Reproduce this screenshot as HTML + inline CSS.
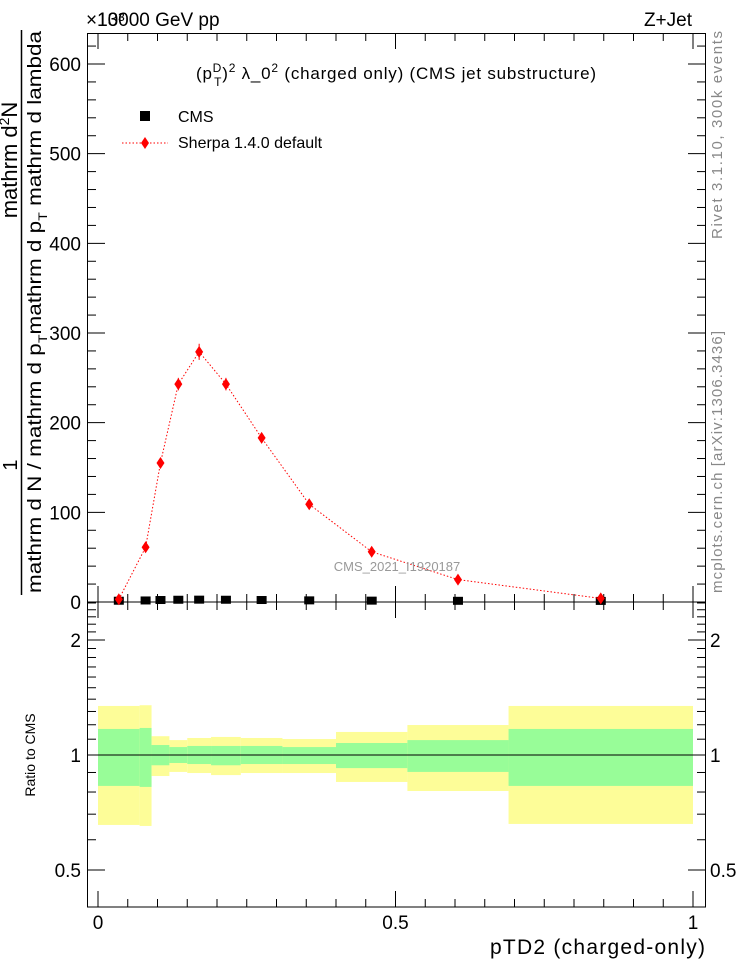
<!DOCTYPE html>
<html><head><meta charset="utf-8"><style>
body{margin:0;background:#fff}
svg{display:block;font-family:"Liberation Sans",sans-serif}
</style></head><body>
<svg id="c" width="746" height="972" viewBox="0 0 746 972">
<rect width="746" height="972" fill="#fff"/>
<g id="bands"></g>
<g id="axes"></g>
<g id="marks"></g>
<text x="86" y="26" font-size="19">×10³</text>
<text x="97" y="26" font-size="19">13000 GeV pp</text>
<text x="692" y="26" font-size="19" text-anchor="end">Z+Jet</text>
<text x="396" y="79" font-size="17" text-anchor="middle" textLength="400">(p<tspan font-size="12" dy="-7">D</tspan><tspan font-size="12" dx="-8" dy="14">T</tspan><tspan dy="-7">)</tspan><tspan font-size="12" dy="-7">2</tspan><tspan dy="7"> λ_0</tspan><tspan font-size="12" dy="-7">2</tspan><tspan dy="7"> (charged only) (CMS jet substructure)</tspan></text>
<rect x="140" y="111" width="10" height="10" fill="#000"/>
<text x="178" y="122" font-size="16">CMS</text>
<line x1="122" y1="143" x2="168" y2="143" stroke="red" stroke-dasharray="1.5,2"/>
<path d="M145,137 L149,143 L145,149 L141,143Z" fill="red"/>
<text x="178" y="148" font-size="16">Sherpa 1.4.0 default</text>
<text x="397" y="571" font-size="13" fill="#999" text-anchor="middle">CMS_2021_I1920187</text>
<text transform="translate(722,135) rotate(-90)" font-size="15" fill="#888" text-anchor="middle" textLength="208">Rivet 3.1.10,  300k events</text>
<text transform="translate(722,462) rotate(-90)" font-size="15" fill="#888" text-anchor="middle" textLength="262">mcplots.cern.ch [arXiv:1306.3436]</text>
<g>
<text transform="translate(17,160) rotate(-90)" font-size="22" text-anchor="middle">mathrm d<tspan font-size="14" dy="-8">2</tspan><tspan dy="8">N</tspan></text>
<text transform="translate(17,465) rotate(-90)" font-size="20" text-anchor="middle">1</text>
<line x1="21.5" y1="30" x2="21.5" y2="595" stroke="#000" stroke-width="1.5"/>
<text transform="translate(41,312) rotate(-90)" font-size="19" text-anchor="middle" textLength="562" lengthAdjust="spacingAndGlyphs">mathrm d N / mathrm d p<tspan font-size="12" dy="6">T</tspan><tspan dy="-6">mathrm d p</tspan><tspan font-size="12" dy="6">T</tspan><tspan dy="-6"> mathrm d lambda</tspan></text>
</g>
<text transform="translate(35,755) rotate(-90)" font-size="14" text-anchor="middle">Ratio to CMS</text>
<text x="705" y="954" font-size="21" text-anchor="end" textLength="215">pTD2 (charged-only)</text>
</svg>
<script>
const binEdges=[0,0.07,0.09,0.12,0.15,0.19,0.24,0.31,0.40,0.52,0.69,1.0];
const binCenters=[0.035,0.08,0.105,0.135,0.17,0.215,0.275,0.355,0.46,0.605,0.845];
const sherpaValues=[3,61,155,243,279,243,183,109,56,25,4];
const sherpaErrors=[3,5,6,7,9,7,5,3,2,1.5,1];
const cmsValues=[0.3,0.6,1.1,1.4,1.5,1.4,1.1,0.7,0.4,0.2,0.1];
const yellowUp=[1.344,1.35,1.12,1.094,1.108,1.115,1.108,1.101,1.149,1.198,1.344];
const yellowDown=[0.656,0.652,0.881,0.903,0.897,0.886,0.897,0.897,0.85,0.805,0.66];
const greenUp=[1.17,1.177,1.062,1.049,1.056,1.056,1.056,1.049,1.075,1.094,1.17];
const greenDown=[0.83,0.825,0.94,0.953,0.947,0.94,0.947,0.947,0.924,0.903,0.83];
const yTicks=[0,100,200,300,400,500,600];
const rTicks=[0.5,1,2];
const xTicks=[0,0.5,1];
const xTickLabels=["0","0.5","1"];

const NS="http://www.w3.org/2000/svg";
const X=v=>98+595*v;
const Y=v=>602-v*(538/600);
const R=r=>755-115*Math.log2(r);
function mk(p,t,a){const e=document.createElementNS(NS,t);for(const k in a)e.setAttribute(k,a[k]);p.appendChild(e);return e;}
const bands=document.getElementById('bands'),axes=document.getElementById('axes'),marks=document.getElementById('marks');
for(let i=0;i<binCenters.length;i++){
  const x0=X(binEdges[i]),x1=X(binEdges[i+1]);
  let r=mk(bands,'rect',{x:x0,y:R(yellowUp[i]),width:x1-x0,height:R(yellowDown[i])-R(yellowUp[i]),fill:'#fdfd98'});
  
  
  r=mk(bands,'rect',{x:x0,y:R(greenUp[i]),width:x1-x0,height:R(greenDown[i])-R(greenUp[i]),fill:'#98fd98'});
  
  
}
mk(axes,'line',{x1:87,y1:R(1),x2:706,y2:R(1),stroke:'#000','stroke-width':1});
mk(axes,'rect',{x:87.5,y:33.5,width:618,height:568.5,fill:'none',stroke:'#000'});
mk(axes,'rect',{x:87.5,y:602,width:618,height:305,fill:'none',stroke:'#000'});
for(let k=0;k<=20;k++){const v=k*0.05,x=X(v),maj=(k%10==0),L=maj?16:8;
  mk(axes,'line',{x1:x,y1:602,x2:x,y2:602-L,stroke:'#000'});
  mk(axes,'line',{x1:x,y1:33,x2:x,y2:33+L,stroke:'#000'});
  mk(axes,'line',{x1:x,y1:602,x2:x,y2:602+L,stroke:'#000'});
  mk(axes,'line',{x1:x,y1:907,x2:x,y2:907-L,stroke:'#000'});}
xTicks.forEach((v,i)=>{const t=mk(axes,'text',{x:X(v),y:929,'font-size':19,'text-anchor':'middle'});t.textContent=xTickLabels[i];
  
  });
for(let v=0;v<=620;v+=20){const y=Y(v),maj=v%100==0,L=maj?18:9;
  mk(axes,'line',{x1:87,y1:y,x2:87+L,y2:y,stroke:'#000'});
  mk(axes,'line',{x1:706,y1:y,x2:706-L,y2:y,stroke:'#000'});}
yTicks.forEach(v=>{const t=mk(axes,'text',{x:81,y:Y(v)+7,'font-size':19,'text-anchor':'end'});t.textContent=v;
  
  });
const rMinor=[0.5,0.6,0.7,0.8,0.9,1,1.1,1.2,1.3,1.4,1.5,1.6,1.7,1.8,1.9,2,2.1,2.2,2.3,2.4,2.5];
rMinor.forEach(r=>{const y=R(r),maj=rTicks.includes(r),L=maj?18:9;
  mk(axes,'line',{x1:87,y1:y,x2:87+L,y2:y,stroke:'#000'});
  mk(axes,'line',{x1:706,y1:y,x2:706-L,y2:y,stroke:'#000'});});
rTicks.forEach(r=>{let t=mk(axes,'text',{x:81,y:R(r)+7,'font-size':19,'text-anchor':'end'});t.textContent=r;
  
  
  t=mk(axes,'text',{x:710,y:R(r)+7,'font-size':19});t.textContent=r;
  
  });
binCenters.forEach((c,i)=>{const r=mk(marks,'rect',{x:X(c)-5,y:Y(cmsValues[i])-5,width:10,height:8,fill:'#000'});
  
  });
const pts=binCenters.map((c,i)=>X(c)+','+Y(sherpaValues[i])).join(' ');
const pl=mk(marks,'polyline',{points:pts,fill:'none',stroke:'red','stroke-dasharray':'1.5,2'});


binCenters.forEach((c,i)=>{const x=X(c),y=Y(sherpaValues[i]);
  mk(marks,'line',{x1:x,y1:Y(sherpaValues[i]+sherpaErrors[i]),x2:x,y2:Y(sherpaValues[i]-sherpaErrors[i]),stroke:'red'});
  const p=mk(marks,'path',{d:`M${x},${y-6}L${x+4},${y}L${x},${y+6}L${x-4},${y}Z`,fill:'red'});
  
  });
</script>
</body></html>
